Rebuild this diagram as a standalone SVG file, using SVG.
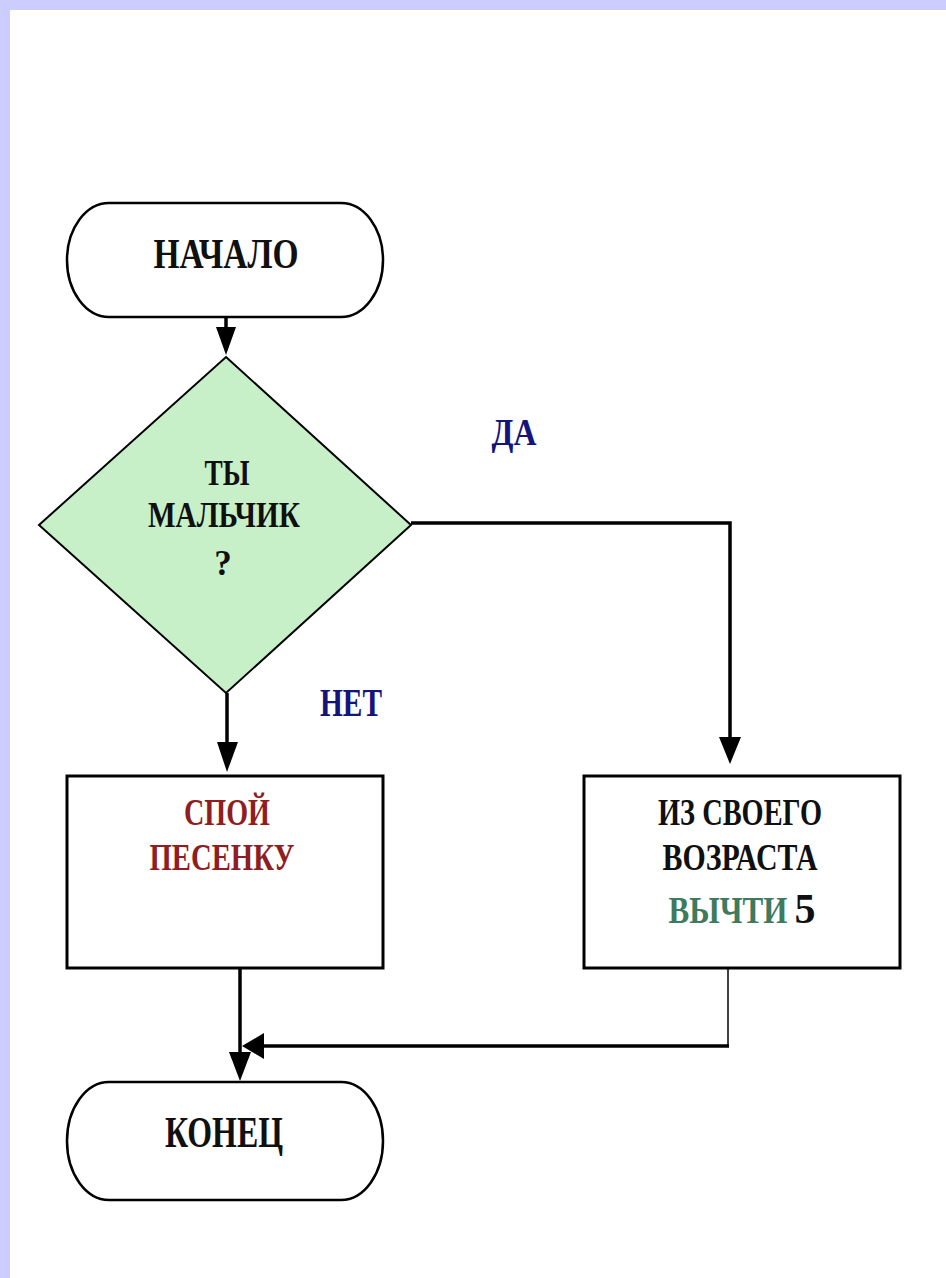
<svg xmlns="http://www.w3.org/2000/svg" width="946" height="1278" viewBox="0 0 946 1278">
<style>
text{font-family:"Liberation Serif","Times New Roman",serif;font-weight:bold;text-anchor:middle}
.term{fill:#fff;stroke:#000;stroke-width:2.5}
.box{fill:#fff;stroke:#000;stroke-width:3}
.dia{fill:#c8f0c8;stroke:#000;stroke-width:2}
.k{fill:#101010}
.lbl{fill:#14147a}
.red{fill:#8e1e22}
.grn{fill:#3d7a5e}
.c{fill:none;stroke:#000;stroke-width:3.5}
.ah{fill:#000}
</style>
<rect x="0" y="0" width="946" height="1278" fill="#fff"/>
<rect x="0" y="0" width="946" height="10" fill="#ccccff"/>
<rect x="0" y="0" width="10" height="1278" fill="#ccccff"/>

<g id="start">
<rect class="term" x="67" y="203" width="316" height="114" rx="42" ry="57"/>
<text class="k" x="226" y="268" font-size="42" textLength="145" lengthAdjust="spacingAndGlyphs">НАЧАЛО</text>
</g>

<g id="decision">
<polygon class="dia" points="226,357 411,525 226,693 39,525"/>
<text class="k" x="227" y="485" font-size="35" textLength="45" lengthAdjust="spacingAndGlyphs">ТЫ</text>
<text class="k" x="224" y="527" font-size="35" textLength="152" lengthAdjust="spacingAndGlyphs">МАЛЬЧИК</text>
<text class="k" x="223" y="575" font-size="35">?</text>
</g>

<g id="labels">
<text class="lbl" x="514" y="445" font-size="37" textLength="45" lengthAdjust="spacingAndGlyphs">ДА</text>
<text class="lbl" x="351" y="716" font-size="39" textLength="62" lengthAdjust="spacingAndGlyphs">НЕТ</text>
</g>

<g id="sing">
<rect class="box" x="67" y="776" width="316" height="192"/>
<text class="red" x="227" y="825" font-size="37" textLength="86" lengthAdjust="spacingAndGlyphs">СПОЙ</text>
<text class="red" x="222" y="870" font-size="37" textLength="145" lengthAdjust="spacingAndGlyphs">ПЕСЕНКУ</text>
</g>

<g id="subtract">
<rect class="box" x="584" y="776" width="316" height="192"/>
<text class="k" x="740" y="825" font-size="37" textLength="164" lengthAdjust="spacingAndGlyphs">ИЗ СВОЕГО</text>
<text class="k" x="740" y="870" font-size="37" textLength="155" lengthAdjust="spacingAndGlyphs">ВОЗРАСТА</text>
<text class="grn" transform="translate(728,923) scale(0.84,1)" x="0" y="0" font-size="37">ВЫЧТИ</text>
<text class="k" x="805" y="923" font-size="42">5</text>
</g>

<g id="end">
<rect class="term" x="67" y="1082" width="316" height="118" rx="42" ry="59"/>
<text class="k" x="224" y="1147" font-size="44" textLength="118" lengthAdjust="spacingAndGlyphs">КОНЕЦ</text>
</g>

<g id="connectors">
<line class="c" x1="226" y1="317" x2="226" y2="332"/>
<polygon class="ah" points="216,327 236,327 226,355"/>
<polyline class="c" points="411,523 730,523 730,742"/>
<polygon class="ah" points="719,737 741,737 730,764"/>
<line class="c" x1="227" y1="693" x2="227" y2="746"/>
<polygon class="ah" points="217,742 238,742 227,772"/>
<line class="c" x1="240" y1="968" x2="240" y2="1056" stroke-width="4"/>
<polygon class="ah" points="229,1052 251,1052 240,1081"/>
<line x1="728" y1="968" x2="728" y2="1046" stroke="#000" stroke-width="1.5"/>
<line class="c" x1="729" y1="1046" x2="258" y2="1046" stroke-width="4.5"/>
<polygon class="ah" points="242,1046 264,1033 264,1059"/>
</g>
</svg>
